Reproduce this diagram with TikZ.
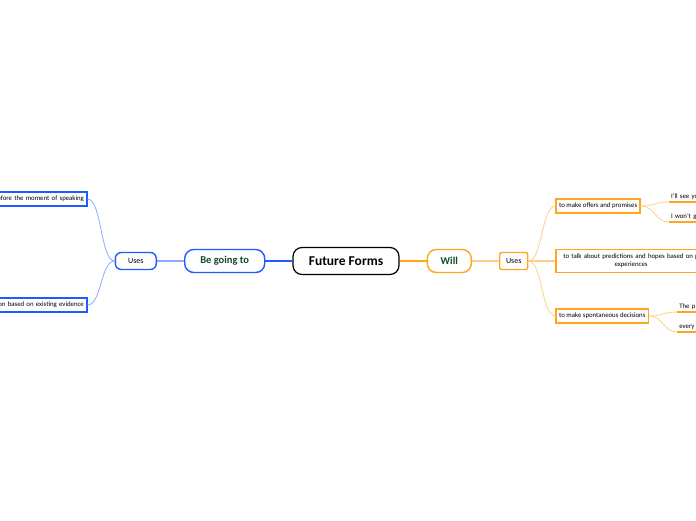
\documentclass[tikz,border=0pt]{standalone}
\usepackage{fontspec}
\setmainfont{Carlito}
\usetikzlibrary{positioning}

\definecolor{goblue}{HTML}{1F5BFF}
\definecolor{golink}{HTML}{8EAAFF}
\definecolor{willorange}{HTML}{FFA51F}
\definecolor{willlink}{HTML}{FFCF88}
\definecolor{topicgreen}{HTML}{0E4A2E}

\begin{document}
\begin{tikzpicture}[
    x=1pt, y=-1pt,
    node distance=27pt,
    root/.style={
        draw=black,
        line width=1.2pt,
        rounded corners=9pt,
        minimum width=106pt,
        minimum height=27pt,
        font=\bfseries\fontsize{13.5}{15}\selectfont
    },
    topic/.style={
        draw=#1,
        line width=1.4pt,
        rounded corners=9pt,
        minimum height=23pt,
        text=topicgreen,
        font=\bfseries\fontsize{10.5}{12}\selectfont
    },
    uses/.style={
        draw=#1,
        line width=1.4pt,
        minimum height=17pt,
        inner xsep=5pt,
        font=\fontsize{8}{9}\selectfont
    },
    sub/.style={
        draw=#1,
        line width=1.4pt,
        inner sep=3pt,
        minimum height=14pt,
        font=\fontsize{6.8}{7.8}\selectfont
    },
    leaf/.style={
        anchor=south west,
        inner xsep=2pt,
        inner ysep=2pt,
        text width=40pt,
        align=left,
        font=\fontsize{6.8}{7.8}\selectfont
    },
    link/.style={draw=#1, line width=0.8pt}
]

\useasboundingbox (0,0) rectangle (696,520);
\clip (0,0) rectangle (696,520);

\node[root] (root) at (346,261) {Future Forms};

% be going to
\node[topic=goblue, minimum width=80pt] (going) [left=of root] {Be going to};
\node[uses=goblue, rounded corners=6pt, minimum width=41pt] (usesL) [left=of going] {Uses};
\node[sub=goblue, anchor=east, text width=150pt, align=right]
    (plans) at ([xshift=-27pt, yshift=62pt]usesL.west) {efore the moment of speaking};
\node[sub=goblue, anchor=east, text width=150pt, align=right]
    (evidence) at ([xshift=-27pt, yshift=-44pt]usesL.west) {ion based on existing evidence};

% will
\node[topic=willorange, minimum width=44pt] (will) [right=of root] {Will};
\node[uses=willorange, rounded corners=2pt, minimum width=28pt, inner xsep=3pt] (usesR) [right=of will] {Uses};
\node[sub=willorange, anchor=west]
    (offers) at ([xshift=27pt, yshift=55pt]usesR.east) {to make offers and promises};
\node[sub=willorange, anchor=west, text width=144pt, align=center, minimum height=23pt]
    (predict) at ([xshift=27pt]usesR.east) {to talk about predictions and hopes based on p\\experiences};
\node[sub=willorange, anchor=west]
    (spont) at ([xshift=27pt, yshift=-55pt]usesR.east) {to make spontaneous decisions};

\coordinate (o1) at ([xshift=28pt, yshift=4pt]offers.east);
\coordinate (o2) at ([xshift=28pt, yshift=-16pt]offers.east);
\coordinate (s1) at ([xshift=28pt, yshift=4pt]spont.east);
\coordinate (s2) at ([xshift=28pt, yshift=-16pt]spont.east);
\node[leaf] (see) at (o1) {I'll see yo};
\node[leaf] (wont) at (o2) {I won't g};
\node[leaf] (thep) at (s1) {The p};
\node[leaf] (every) at (s2) {every};
\foreach \l in {see, wont, thep, every}
    \draw[link=willorange, line width=1.4pt] (\l.south west) -- ++(60,0);

% connectors
\draw[link=goblue, line width=1.6pt] (root.west) -- (going.east);
\draw[link=golink, line width=1.6pt] (going.west) -- (usesL.east);
\draw[link=golink] (usesL.west) .. controls +(-14,0) and +(14,0) .. (plans.east);
\draw[link=golink] (usesL.west) .. controls +(-14,0) and +(14,0) .. (evidence.east);

\draw[link=willorange, line width=1.6pt] (root.east) -- (will.west);
\draw[link=willlink, line width=1.6pt] (will.east) -- (usesR.west);
\draw[link=willlink] (usesR.east) .. controls +(14,0) and +(-14,0) .. (offers.west);
\draw[link=willlink, line width=1.6pt] (usesR.east) -- (predict.west);
\draw[link=willlink] (usesR.east) .. controls +(14,0) and +(-14,0) .. (spont.west);
\draw[link=willlink] (offers.east) .. controls +(14,0) and +(-14,0) .. (see.south west);
\draw[link=willlink] (offers.east) .. controls +(14,0) and +(-14,0) .. (wont.south west);
\draw[link=willlink] (spont.east) .. controls +(14,0) and +(-14,0) .. (thep.south west);
\draw[link=willlink] (spont.east) .. controls +(14,0) and +(-14,0) .. (every.south west);

\end{tikzpicture}
\end{document}
